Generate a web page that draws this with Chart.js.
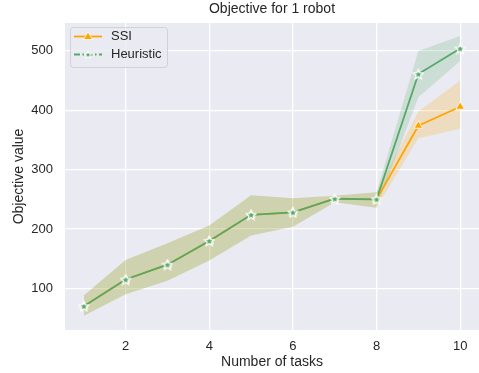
<!DOCTYPE html>
<html>
<head>
<meta charset="utf-8">
<script src="https://cdn.jsdelivr.net/npm/chart.js@4/dist/chart.umd.min.js"></script>
<style>
  body { margin: 0; background: #ffffff; }
  #wrap { width: 479px; height: 373px; }
</style>
</head>
<body>
<div id="wrap"><canvas id="chart" width="479" height="373"></canvas></div>
<script>
// values
const tasks = [1, 2, 3, 4, 5, 6, 7, 8, 9, 10];
const ssiMean = [70, 115, 140, 180, 224, 228, 251, 250, 374, 406];
const ssiLow = [54, 90, 113, 147, 189, 204, 245, 236, 353, 369];
const ssiHigh = [88, 148, 176, 206, 257, 252, 256, 262, 398, 450];
const heurMean = [70, 115, 140, 180, 224, 228, 251, 250, 461, 504];
const heurLow = [54, 90, 113, 147, 189, 204, 245, 236, 422, 483];
const heurHigh = [88, 148, 176, 206, 257, 252, 256, 262, 500, 525];
const xTicks = [2, 4, 6, 8, 10];
const yTicks = [100, 200, 300, 400, 500];

const ORANGE = '#ffa500';
const GREEN = '#55a868';
const TEXT = '#262626';
const FONT = "'Liberation Sans', Arial, sans-serif";

const pts = (arr) => arr.map((v, i) => ({ x: tasks[i], y: v }));

// filled star marker like matplotlib '*'
function makeStar(size) {
    const c = document.createElement('canvas');
    c.width = size; c.height = size;
    const g = c.getContext('2d');
    const cx = size / 2, cy = size / 2 + 0.5, R = size / 2 - 1, r = R * 0.45;
    g.beginPath();
    for (let i = 0; i < 10; i++) {
        const a = -Math.PI / 2 + i * Math.PI / 5;
        const rr = i % 2 === 0 ? R : r;
        g.lineTo(cx + rr * Math.cos(a), cy + rr * Math.sin(a));
    }
    g.closePath();
    g.fillStyle = GREEN;
    g.fill();
    g.strokeStyle = '#ffffff';
    g.lineWidth = 1.3;
    g.stroke();
    return c;
}
const star = makeStar(12);

const bgPlugin = {
    id: 'bg',
    beforeDraw(chart) {
        const { ctx, chartArea: a } = chart;
        ctx.save();
        ctx.fillStyle = '#eaeaf2';
        ctx.fillRect(a.left, a.top, a.right - a.left, a.bottom - a.top);
        ctx.restore();
    }
};

const extrasPlugin = {
    id: 'extras',
    afterDraw(chart) {
        const { ctx, chartArea: a } = chart;
        ctx.save();
        // title
        ctx.fillStyle = TEXT;
        ctx.font = '14px ' + FONT;
        ctx.textAlign = 'center';
        ctx.textBaseline = 'middle';
        ctx.fillText('Objective for 1 robot', (a.left + a.right) / 2, 9.5);

        // legend
        const lx = 70, ly = 27, lw = 97, lh = 40;
        ctx.beginPath();
        ctx.roundRect(lx + 0.5, ly + 0.5, lw, lh, 3);
        ctx.fillStyle = 'rgba(234,234,242,0.8)';
        ctx.fill();
        ctx.strokeStyle = 'rgba(204,204,204,0.8)';
        ctx.lineWidth = 1;
        ctx.stroke();

        // SSI entry
        let y = 36.5;
        ctx.strokeStyle = ORANGE;
        ctx.lineWidth = 1.8;
        ctx.beginPath(); ctx.moveTo(74, y); ctx.lineTo(102, y); ctx.stroke();
        ctx.beginPath();
        ctx.moveTo(88, y - 4.5); ctx.lineTo(92.5, y + 3); ctx.lineTo(83.5, y + 3); ctx.closePath();
        ctx.fillStyle = ORANGE; ctx.fill();
        ctx.strokeStyle = '#ffffff'; ctx.lineWidth = 0.8; ctx.stroke();
        ctx.fillStyle = TEXT;
        ctx.font = '13px ' + FONT;
        ctx.textAlign = 'left';
        ctx.fillText('SSI', 111, y);

        // Heuristic entry
        y = 54.5;
        ctx.strokeStyle = GREEN;
        ctx.lineWidth = 1.8;
        ctx.setLineDash([6, 2.5, 1.5, 2.5]);
        ctx.beginPath(); ctx.moveTo(74, y); ctx.lineTo(102, y); ctx.stroke();
        ctx.setLineDash([]);
        ctx.drawImage(star, 88 - 4.5, y - 4.5, 9, 9);
        ctx.fillStyle = TEXT;
        ctx.fillText('Heuristic', 111, y);
        ctx.restore();
    }
};

new Chart(document.getElementById('chart'), {
    type: 'line',
    data: {
        datasets: [
            { data: pts(ssiLow), borderWidth: 0, pointRadius: 0, fill: false, order: 5 },
            { data: pts(ssiHigh), borderWidth: 0, pointRadius: 0, fill: '-1',
              backgroundColor: 'rgba(255,165,0,0.2)', order: 5 },
            { data: pts(heurLow), borderWidth: 0, pointRadius: 0, fill: false, order: 4 },
            { data: pts(heurHigh), borderWidth: 0, pointRadius: 0, fill: '-1',
              backgroundColor: 'rgba(85,168,104,0.2)', order: 4 },
            { label: 'SSI', data: pts(ssiMean), borderColor: ORANGE, borderWidth: 1.8,
              pointStyle: 'triangle', pointRadius: 5, pointBackgroundColor: ORANGE,
              pointBorderColor: '#ffffff', pointBorderWidth: 0.8, fill: false, order: 2 },
            { label: 'Heuristic', data: pts(heurMean), borderColor: GREEN, borderWidth: 1.8,
              pointStyle: star, pointRadius: 5, fill: false, order: 1 }
        ]
    },
    options: {
        responsive: false,
        animation: false,
        devicePixelRatio: 1,
        layout: { autoPadding: false, padding: { top: 23, right: 0, left: 0, bottom: 0 } },
        elements: { line: { tension: 0 } },
        plugins: { legend: { display: false }, tooltip: { enabled: false } },
        scales: {
            x: {
                type: 'linear', min: 0.55, max: 10.45,
                afterBuildTicks: (ax) => { ax.ticks = xTicks.map(v => ({ value: v })); },
                afterFit: (ax) => { ax.height = 43; ax.paddingLeft = 0; ax.paddingRight = 0; },
                grid: { color: '#ffffff', lineWidth: 1.3, drawTicks: false },
                border: { display: false },
                ticks: { color: TEXT, font: { family: FONT, size: 13 }, padding: 9, maxRotation: 0 },
                title: { display: true, text: 'Number of tasks', color: TEXT,
                         font: { family: FONT, size: 14 }, padding: { top: 0, bottom: 2 } }
            },
            y: {
                min: 30, max: 547,
                afterBuildTicks: (ax) => { ax.ticks = yTicks.map(v => ({ value: v })); },
                afterFit: (ax) => { ax.width = 65; },
                grid: { color: '#ffffff', lineWidth: 1.3, drawTicks: false },
                border: { display: false },
                ticks: { color: TEXT, font: { family: FONT, size: 13 }, padding: 12 },
                title: { display: true, text: 'Objective value', color: TEXT,
                         font: { family: FONT, size: 14 }, padding: { top: 11, bottom: 0 } }
            }
        }
    },
    plugins: [bgPlugin, extrasPlugin]
});
</script>
</body>
</html>
